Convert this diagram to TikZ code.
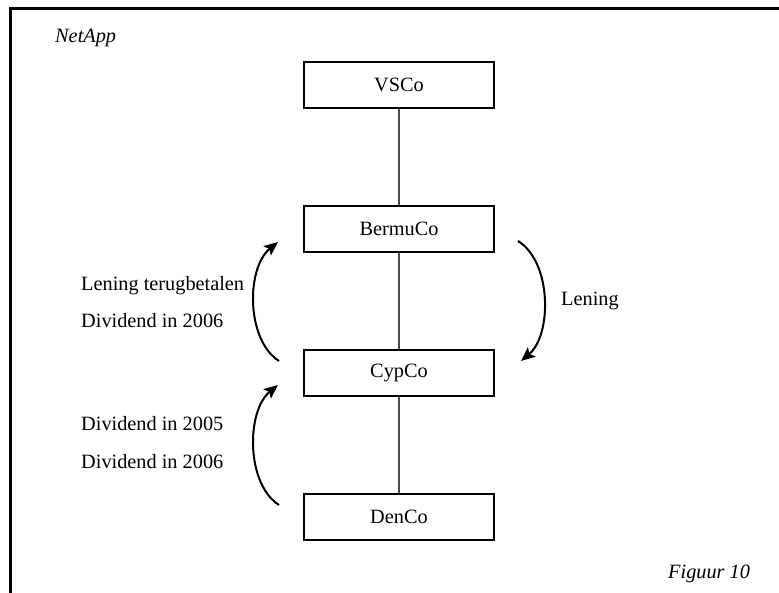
\documentclass[tikz,border=0pt]{standalone}
\usepackage{fontspec}
\setmainfont{Liberation Serif}
\usetikzlibrary{arrows.meta}
\begin{document}
\begin{tikzpicture}[x=1pt,y=-1pt,
  txt/.style={font=\fontsize{20.3}{24}\selectfont},
  entity/.style={txt, draw=black, line width=2pt, minimum width=190pt,
    minimum height=46pt, inner sep=0pt},
  link/.style={draw=black!70, line width=1.1pt},
  flow/.style={draw=black, line width=2pt,
    -{Stealth[length=14pt,width=12pt,inset=3pt]}},
  lbl/.style={txt, anchor=base west, inner sep=0pt},
  caption/.style={lbl, font=\fontsize{20.3}{24}\selectfont\itshape},
  frameline/.style={line width=3pt}]
\useasboundingbox (0,0) rectangle (779,593);

% open frame along the top and left edges
\draw[frameline] (10,593) -- (10,9) -- (779,9);

% group structure
\node[entity] (vsco)  at (399,85)  {VSCo};
\node[entity] (bermu) at (399,229) {BermuCo};
\node[entity] (cyp)   at (399,373) {CypCo};
\node[entity] (den)   at (399,517) {DenCo};

\draw[link] (vsco) -- (bermu);
\draw[link] (bermu) -- (cyp);
\draw[link] (cyp) -- (den);

% flows between the entities
\coordinate (lupA) at (279,361);
\coordinate (lupB) at (278,242);
\coordinate (rdnA) at (518,241);
\coordinate (rdnB) at (521,361);
\coordinate (ldnA) at (279,505);
\coordinate (ldnB) at (278,385);

\draw[flow] (lupA) .. controls (246,340) and (246,268) .. (lupB);
\draw[flow] (rdnA) .. controls (552,262) and (552,335) .. (rdnB);
\draw[flow] (ldnA) .. controls (246,484) and (246,411) .. (ldnB);

% labels
\node[lbl] (t1) at (81,291) {Lening terugbetalen};
\node[lbl] (t2) at (81,328) {Dividend in 2006};
\node[lbl] (t3) at (81,430) {Dividend in 2005};
\node[lbl] (t4) at (81,468) {Dividend in 2006};
\node[lbl] (t5) at (561,306) {Lening};

\node[caption] (title) at (55,43) {NetApp};
\node[caption] (fig) at (668,578) {Figuur 10};
\end{tikzpicture}
\end{document}
